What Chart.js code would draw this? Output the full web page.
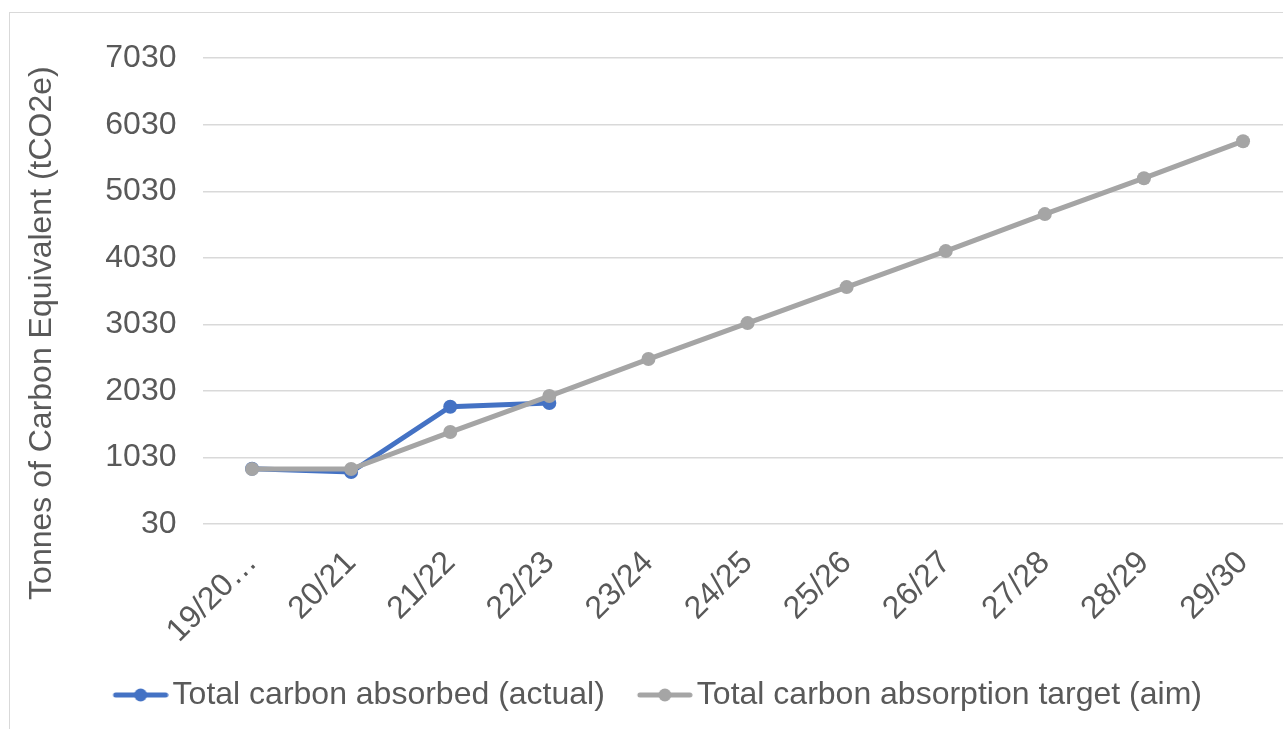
<!DOCTYPE html>
<html>
<head>
<meta charset="utf-8">
<script src="https://cdn.jsdelivr.net/npm/chart.js@4"></script>
<style>
  html, body { margin: 0; padding: 0; background: #fff; overflow: hidden; }
  #box { position: absolute; left: 9px; top: 12px; width: 1300px; height: 740px; border: 1px solid #d9d9d9; }
  canvas { display: block; }
</style>
</head>
<body>
<div id="box"><canvas id="myChart" width="1300" height="740"></canvas></div>
<script>
// Data for the chart
const years = ['19/20\u2026', '20/21', '21/22', '22/23', '23/24', '24/25', '25/26', '26/27', '27/28', '28/29', '29/30'];
const actualValues = [860, 811, 1792, 1848];
const targetValues = [856, 856, 1412, 1953, 2509, 3049, 3590, 4131, 4687, 5227, 5783];
const axisMin = 30;
const axisMax = 7030;
const axisStep = 1000;
const yTitle = 'Tonnes of Carbon Equivalent (tCO2e)';

const BLUE = '#4472C4';
const GREY = '#A5A5A5';
const TEXT = '#595959';
const FONT = '"Liberation Sans", Arial, sans-serif';

// legend marker: short line with a dot on it (drawn in the right part of the image)
function legendMarker(color) {
    const c = document.createElement('canvas');
    c.width = 80;
    c.height = 20;
    const g = c.getContext('2d');
    g.strokeStyle = color;
    g.lineWidth = 5;
    g.lineCap = 'round';
    g.beginPath();
    g.moveTo(27, 10);
    g.lineTo(77, 10);
    g.stroke();
    g.fillStyle = color;
    g.beginPath();
    g.arc(52, 10, 6.5, 0, Math.PI * 2);
    g.fill();
    return c;
}
const markers = [legendMarker(BLUE), legendMarker(GREY)];

// y title, centred on plot + category labels like the original
const sideTitle = {
    id: 'sideTitle',
    afterDraw(chart) {
        const ctx = chart.ctx;
        const mid = (chart.chartArea.top + chart.chartArea.bottom) / 2 + 42;
        ctx.save();
        ctx.translate(32, mid);
        ctx.rotate(-Math.PI / 2);
        ctx.font = '32px ' + FONT;
        ctx.fillStyle = TEXT;
        ctx.textAlign = 'center';
        ctx.textBaseline = 'middle';
        ctx.fillText(yTitle, 0, 0);
        ctx.restore();
    }
};

const ctx = document.getElementById('myChart').getContext('2d');
const chart = new Chart(ctx, {
    type: 'line',
    data: {
        labels: years,
        datasets: [{
            label: 'Total carbon absorbed (actual)',
            data: actualValues,
            borderColor: BLUE,
            backgroundColor: BLUE,
            borderWidth: 5,
            pointRadius: 7,
            pointBorderWidth: 0,
            order: 1
        }, {
            label: 'Total carbon absorption target (aim)',
            data: targetValues,
            borderColor: GREY,
            backgroundColor: GREY,
            borderWidth: 5,
            pointRadius: 7,
            pointBorderWidth: 0,
            order: 0
        }]
    },
    options: {
        responsive: false,
        devicePixelRatio: 1,
        animation: false,
        layout: { padding: { left: 0, right: 17.4, top: 45, bottom: 32 } },
        plugins: {
            tooltip: { enabled: false },
            legend: {
                position: 'bottom',
                labels: {
                    usePointStyle: true,
                    pointStyleWidth: 56,
                    padding: 20,
                    color: TEXT,
                    font: { family: FONT, size: 32 },
                    sort: (a, b) => a.datasetIndex - b.datasetIndex,
                    generateLabels(chart) {
                        const items = Chart.defaults.plugins.legend.labels.generateLabels(chart);
                        items.forEach(it => { it.pointStyle = markers[it.datasetIndex]; });
                        return items;
                    }
                }
            }
        },
        scales: {
            x: {
                offset: true,
                grid: { display: false },
                border: { display: false },
                afterFit(scale) { scale.height = 135; },
                ticks: {
                    color: TEXT,
                    font: { family: FONT, size: 32 },
                    minRotation: 45,
                    maxRotation: 45,
                    autoSkip: false,
                    padding: 12
                }
            },
            y: {
                min: axisMin,
                max: axisMax,
                afterFit(scale) { scale.width = 192.5; },
                grid: { color: '#d9d9d9', lineWidth: 1.5, drawTicks: false },
                border: { display: false },
                ticks: {
                    stepSize: axisStep,
                    color: TEXT,
                    font: { family: FONT, size: 32 },
                    padding: 26,
                    callback: v => String(v)
                }
            }
        }
    },
    plugins: [sideTitle]
});
</script>
</body>
</html>
